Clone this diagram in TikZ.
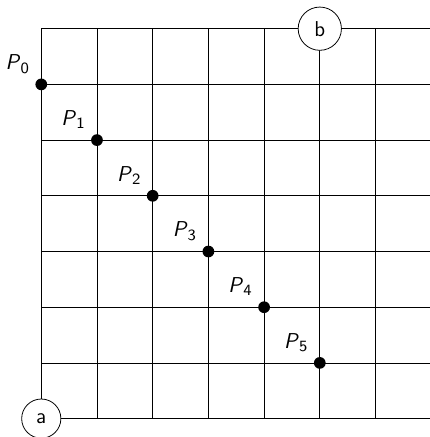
\documentclass[tikz,border=0pt]{standalone}
\usepackage{tikz}
\usepackage{xcolor}
\usepackage{amsmath}

\begin{document}
\begin{tikzpicture}[
    font=\sffamily\fontsize{11}{13}\selectfont,
    endpt/.style={draw, circle, fill=white, inner sep=4.5pt},
    dot/.style={circle, fill=black, inner sep=0pt, minimum size=6pt}]
    \useasboundingbox (-0.741,-0.33) rectangle (6.961,7.515);
    % Grid
    \foreach \y in {0,...,7}
        \draw (0,\y) -- (7,\y);
    \foreach \x in {0,...,6}
        \draw (\x,0) -- (\x,7);
    % Corners
    \node[endpt] (a) at (0,0) {a};
    \node[endpt] (b) at (5,7) {b};
    % Points
    \foreach \n in {0,...,5}
        \node[dot, label={above left:\textit{P}$_{\mathsf{\n}}$}] (P\n) at (\n,6-\n) {};
\end{tikzpicture}
\end{document}
